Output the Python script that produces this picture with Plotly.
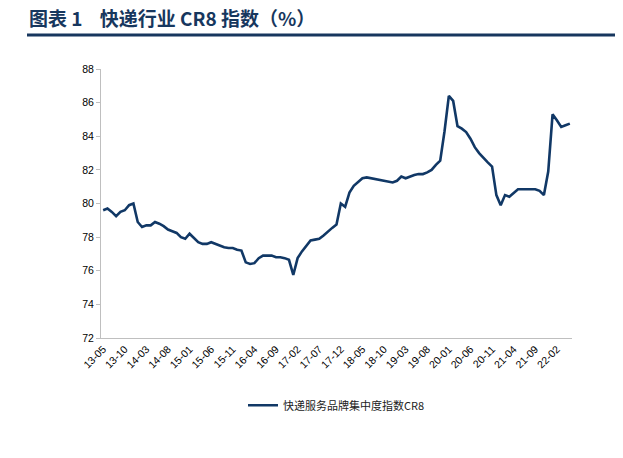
import plotly.graph_objects as go

# monthly categories 13-05 .. 22-05
months = []
for yr in range(13, 23):
    for m in range(1, 13):
        if (yr == 13 and m < 5) or (yr == 22 and m > 5):
            continue
        months.append("%02d-%02d" % (yr, m))

cr8 = [79.6, 79.7, 79.5, 79.25, 79.5, 79.6, 79.9, 80.0, 78.9, 78.6,
       78.7, 78.7, 78.9, 78.8, 78.65, 78.45, 78.35, 78.25, 78.0, 77.9,
       78.2, 77.95, 77.7, 77.6, 77.6, 77.7, 77.6, 77.5, 77.4, 77.35,
       77.35, 77.25, 77.2, 76.5, 76.4, 76.45, 76.75, 76.9, 76.9, 76.9,
       76.8, 76.8, 76.75, 76.65, 75.75, 76.75, 77.15, 77.5, 77.8, 77.85,
       77.9, 78.1, 78.35, 78.55, 78.75, 80.0, 79.8, 80.65, 81.05, 81.3,
       81.5, 81.55, 81.5, 81.45, 81.4, 81.35, 81.3, 81.25, 81.35, 81.6,
       81.5, 81.6, 81.7, 81.75, 81.75, 81.85, 82.0, 82.3, 82.55, 84.3,
       86.4, 86.1, 84.6, 84.45, 84.25, 83.85, 83.35, 83.0, 82.7, 82.45,
       82.2, 80.5, 79.9, 80.5, 80.4, 80.6, 80.85, 80.85, 80.85, 80.85,
       80.85, 80.75, 80.5, 81.9, 85.3, 84.95, 84.55, 84.65, 84.75]

tick_labels = months[::5]
navy = "#113866"
title_blue = "#17375E"
sp = "\u00a0"
off = 8  # page body margin

fig = go.Figure()
fig.add_trace(go.Scatter(x=months, y=cr8, mode="lines", name="快递服务品牌集中度指数CR8",
                         line=dict(color=navy, width=2.6)))

fig.update_layout(
    width=623, height=458,
    margin=dict(l=101 - off, r=51 + off, t=69 - off, b=120 + off, autoexpand=False),
    plot_bgcolor="white", paper_bgcolor="white",
    font=dict(family="Liberation Sans, Arial", size=10, color="#000000"),
    showlegend=True,
    legend=dict(orientation="h", x=0.5, xanchor="center", y=-0.25, yanchor="middle",
                font=dict(family="Noto Sans CJK SC", size=11, color="#222222")),
)
# title as annotation, underline as shape
fig.add_annotation(text="<b>图表" + sp + "1" + sp * 4 + "快递行业" + sp + "CR8" + sp + "指数（%）</b>",
                   xref="paper", yref="paper", x=(27 - 101) / 471, y=(338 - 17) / 269,
                   xanchor="left", yanchor="middle", showarrow=False,
                   font=dict(family="Noto Sans CJK SC", size=19, color=title_blue))
fig.add_shape(type="line", xref="paper", yref="paper",
              x0=(27 - 101) / 471, x1=(623 - 101) / 471,
              y0=(338 - 35) / 269, y1=(338 - 35) / 269,
              line=dict(color=title_blue, width=3))

fig.update_xaxes(type="category", categoryorder="array", categoryarray=months,
                 range=[-0.5, len(months) - 0.5], automargin=False,
                 tickmode="array", tickvals=tick_labels, ticktext=tick_labels,
                 tickangle=-45, tickfont=dict(size=10.5),
                 showline=True, linecolor="#BFBFBF", linewidth=1,
                 showgrid=False, ticks="", zeroline=False)
fig.update_yaxes(range=[72, 88], tickmode="linear", tick0=72, dtick=2, automargin=False,
                 showline=True, linecolor="#BFBFBF", linewidth=1,
                 ticks="outside", ticklen=4, tickcolor="#BFBFBF",
                 showgrid=False, zeroline=False, tickfont=dict(size=10.5))

fig.write_html("out.html")
